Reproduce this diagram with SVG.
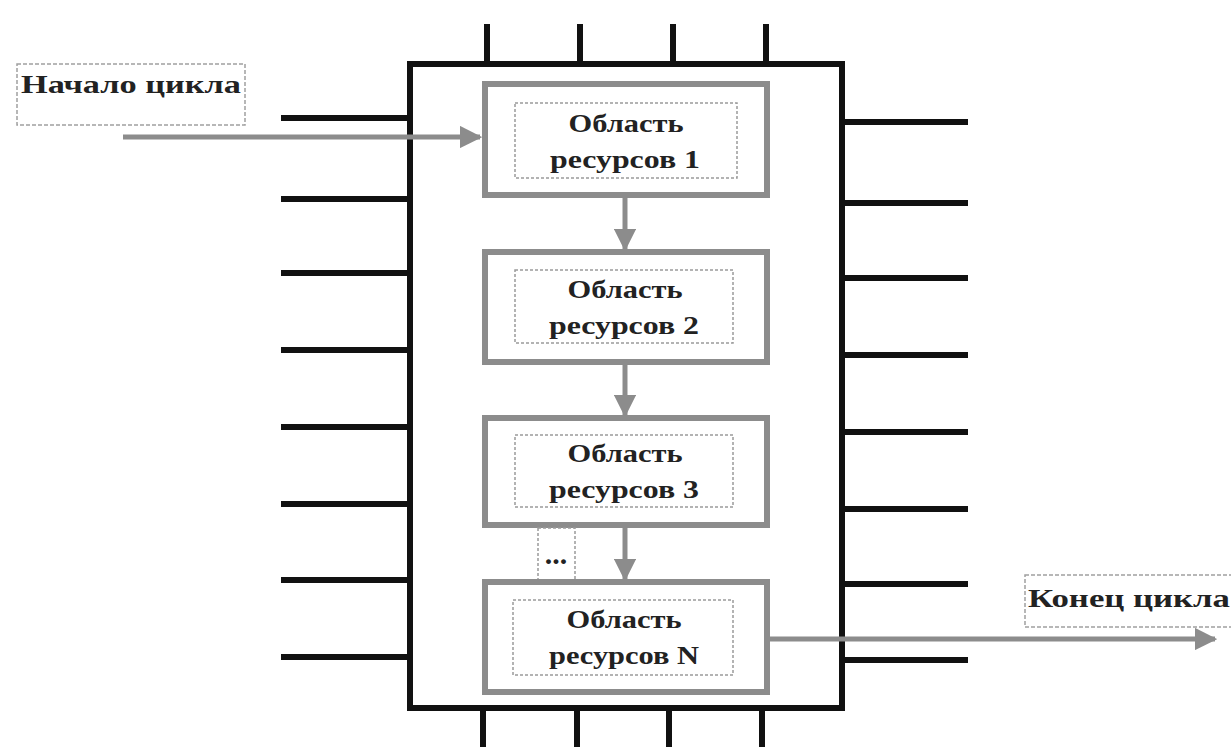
<svg xmlns="http://www.w3.org/2000/svg" width="1231" height="747" viewBox="0 0 1231 747">
<defs>
<style>
.pin{stroke:#111;stroke-width:6;fill:none}
.chip{stroke:#111;stroke-width:6;fill:#fff}
.area{stroke:#8c8c8c;stroke-width:6;fill:#fff}
.inner{stroke:#9a9a9a;stroke-width:1.5;stroke-dasharray:3 2;fill:none}
.lbl{stroke:#a0a0a0;stroke-width:1.5;stroke-dasharray:4 2;fill:#fff}
.flow{stroke:#8c8c8c;stroke-width:5;fill:none}
.t{font-family:"Liberation Serif","DejaVu Serif",serif;font-weight:bold;fill:#222;text-anchor:middle}
</style>
<marker id="ah" viewBox="0 0 10 10" refX="9" refY="5" markerWidth="4.5" markerHeight="4.5" orient="auto" markerUnits="strokeWidth">
<path d="M0,0 L10,5 L0,10 Z" fill="#8c8c8c"/>
</marker>
</defs>
<rect width="1231" height="747" fill="#fff"/>
<g id="chip">
<g id="pins">
<path class="pin" d="M487,24V64M580,24V64M673,24V64M766,24V64"/>
<path class="pin" d="M483,708V747M577,708V747M669,708V747M762,708V747"/>
<path class="pin" d="M281,118H410M281,199H410M281,273H410M281,350H410M281,427H410M281,504H410M281,580H410M281,657H410"/>
<path class="pin" d="M842,122H968M842,203H968M842,278H968M842,355H968M842,432H968M842,509H968M842,584H968M842,660H968"/>
</g>
<rect class="chip" x="410" y="64" width="432" height="644"/>
</g>
<g id="start-label">
<rect class="lbl" x="17" y="64" width="228" height="61"/>
<text class="t" x="131" y="93" font-size="26" textLength="220" lengthAdjust="spacingAndGlyphs">Начало цикла</text>
</g>
<g id="end-label">
<rect class="lbl" x="1025" y="575" width="210" height="52"/>
<text class="t" x="1129" y="607" font-size="26" textLength="202" lengthAdjust="spacingAndGlyphs">Конец цикла</text>
</g>
<g id="area1">
<rect class="area" x="485" y="84" width="282" height="111"/>
<rect class="inner" x="515" y="103" width="222" height="75"/>
<text class="t" x="626" y="132" font-size="25" textLength="115" lengthAdjust="spacingAndGlyphs">Область</text>
<text class="t" x="625" y="168" font-size="25" textLength="150" lengthAdjust="spacingAndGlyphs">ресурсов 1</text>
</g>
<g id="area2">
<rect class="area" x="485" y="252" width="282" height="110"/>
<rect class="inner" x="515" y="270" width="218" height="73"/>
<text class="t" x="625" y="298" font-size="25" textLength="115" lengthAdjust="spacingAndGlyphs">Область</text>
<text class="t" x="624" y="334" font-size="25" textLength="150" lengthAdjust="spacingAndGlyphs">ресурсов 2</text>
</g>
<g id="area3">
<rect class="area" x="485" y="418" width="282" height="107"/>
<rect class="inner" x="515" y="435" width="218" height="72"/>
<text class="t" x="625" y="462" font-size="25" textLength="115" lengthAdjust="spacingAndGlyphs">Область</text>
<text class="t" x="624" y="498" font-size="25" textLength="150" lengthAdjust="spacingAndGlyphs">ресурсов 3</text>
</g>
<g id="dots">
<rect class="inner" x="538" y="528" width="37" height="52"/>
<text class="t" x="556" y="564" font-size="30">...</text>
</g>
<g id="areaN">
<rect class="area" x="485" y="582" width="282" height="110"/>
<rect class="inner" x="513" y="600" width="220" height="75"/>
<text class="t" x="624" y="628" font-size="25" textLength="115" lengthAdjust="spacingAndGlyphs">Область</text>
<text class="t" x="624" y="664" font-size="25" textLength="150" lengthAdjust="spacingAndGlyphs">ресурсов N</text>
</g>
<g id="connectors">
<path class="flow" d="M123,137H480" marker-end="url(#ah)"/>
<path class="flow" d="M625,198V249" marker-end="url(#ah)"/>
<path class="flow" d="M625,365V415" marker-end="url(#ah)"/>
<path class="flow" d="M625,528V579" marker-end="url(#ah)"/>
<path class="flow" d="M770,639H1215" marker-end="url(#ah)"/>
</g>
</svg>
